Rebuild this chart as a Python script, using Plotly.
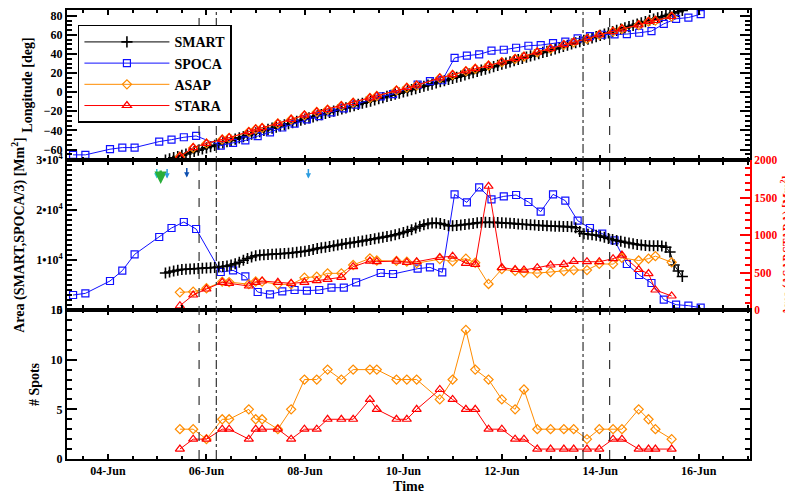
import pandas as pd
import plotly.graph_objects as go

# ---------------- data (day-of-month in June 2012, fractional) ----------------
BASE = pd.Timestamp("2012-06-01")

# SMART: 2-hour cadence starting 2012-06-05 04:00
smart_start = "2012-06-05 04:00"
smart_lon = [-71.2, -69.9, -68.6, -67.3, -66.0, -64.7, -63.4, -62.1, -60.8, -59.5,
             -58.2, -56.9, -55.6, -54.3, -53.0, -51.7, -50.4, -49.1, -47.8, -46.5,
             -45.2, -43.9, -42.6, -41.3, -40.1, -38.9, -37.7, -36.5, -35.4, -34.2,
             -33.0, -31.8, -30.6, -29.4, -28.2, -27.0, -25.9, -24.7, -23.5, -22.3,
             -21.1, -19.9, -18.7, -17.6, -16.4, -15.2, -14.0, -12.8, -11.6, -10.4,
             -9.3, -8.1, -6.9, -5.7, -4.5, -3.3, -2.1, -1.0, 0.2, 1.4,
             2.6, 3.8, 5.0, 6.2, 7.3, 8.5, 9.7, 10.9, 12.1, 13.3,
             14.5, 15.6, 16.8, 18.0, 19.3, 20.5, 21.8, 23.0, 24.2, 25.5,
             26.7, 28.0, 29.2, 30.4, 31.7, 32.9, 34.2, 35.4, 36.6, 37.9,
             39.1, 40.4, 41.6, 42.8, 44.1, 45.3, 46.6, 47.8, 49.1, 50.4,
             51.7, 53.0, 54.3, 55.6, 56.9, 58.2, 59.5, 60.8, 62.1, 63.4,
             64.7, 66.0, 67.3, 68.6, 69.9, 71.2, 72.5, 73.8, 75.1, 76.4,
             77.7, 79.0, 80.3, 81.6, 82.9, 84.2, 85.5]
smart_area = [7400, 7600, 7800, 7950, 8100, 8150, 8200, 8250, 8300, 8350,
              8400, 8450, 8500, 8600, 8700, 8800, 9000, 9250, 9550, 9950,
              10300, 10600, 10850, 11000, 11050, 11100, 11150, 11200, 11250, 11300,
              11350, 11450, 11550, 11650, 11750, 11900, 12100, 12300, 12450, 12550,
              12700, 12850, 13000, 13150, 13300, 13400, 13550, 13650, 13800, 13950,
              14100, 14250, 14400, 14550, 14700, 14850, 15050, 15250, 15500, 15750,
              16050, 16400, 16750, 17050, 17250, 17400, 17400, 17300, 17100, 16850,
              16850, 16900, 17000, 17100, 17200, 17300, 17450, 17500, 17550, 17500,
              17550, 17500, 17450, 17400, 17350, 17300, 17200, 17150, 17100, 17050,
              17000, 16900, 16900, 16850, 16800, 16750, 16750, 16700, 16700, 16650,
              16450, 15700, 15250, 15150, 15050, 14950, 14800, 14550, 14300, 14100,
              13900, 13750, 13550, 13400, 13250, 13100, 13000, 12900, 12850, 12850,
              12850, 12800, 12550, 11600, 9000, 7800, 6700]

spoca_day = [3.29, 3.54, 4.04, 4.29, 4.54, 5.04, 5.29, 5.54, 5.79, 6.29,
             6.54, 6.79, 7.04, 7.29, 7.54, 7.79, 8.04, 8.29, 8.54, 8.79,
             9.04, 9.54, 9.79, 10.29, 10.54, 10.79, 11.04, 11.29, 11.54, 11.79,
             12.04, 12.29, 12.54, 12.79, 13.04, 13.29, 13.54, 13.79, 14.04, 14.29,
             14.54, 14.79, 15.04, 15.29, 15.54, 15.79, 16.04]
spoca_lon = [-65.6, -65.6, -59.7, -58.0, -58.0, -51.7, -49.7, -47.2, -45.8, -56.0,
             -53.0, -50.5, -46.0, -42.0, -37.0, -33.0, -28.5, -25.0, -21.2, -17.0,
             -13.0, -4.5, -2.0, 8.0, 11.5, 12.5, 35.8, 38.2, 39.6, 43.4,
             44.4, 46.5, 48.6, 49.3, 51.4, 52.8, 56.2, 58.6, 60.1, 60.4,
             60.8, 62.2, 63.9, 71.5, 76.8, 78.1, 81.6]
spoca_area_div3 = [3000, 3330, 5800, 7870, 11130, 14600, 16400, 17600, 16200, 7600,
                   7930, 6730, 3600, 3130, 3730, 4000, 3870, 4000, 4470, 4470,
                   5530, 7400, 7200, 8270, 8530, 7530, 23130, 21530, 24530, 22130,
                   22730, 23000, 21600, 19670, 23130, 21870, 17870, 16400, 15270, 13930,
                   9200, 7000, 5400, 2070, 1070, 870, 470]

hmi_day = [5.46, 5.73, 6.00, 6.32, 6.46, 6.86, 7.00, 7.13, 7.45, 7.72,
           7.99, 8.24, 8.46, 8.74, 8.98, 9.32, 9.46, 9.86, 10.07, 10.27,
           10.74, 11.00, 11.27, 11.46, 11.73, 12.00, 12.27, 12.45, 12.72, 12.99,
           13.26, 13.46, 13.73, 13.98, 14.26, 14.44, 14.78, 14.98, 15.12, 15.45]
stara_lon = [-67.4, -58.0, -53.5, -49.3, -47.6, -41.3, -38.5, -37.2, -32.6, -28.4,
             -24.0, -20.5, -18.0, -14.2, -10.8, -5.9, -3.8, 2.1, 4.9, 7.3,
             14.9, 18.4, 22.2, 24.7, 28.1, 31.6, 35.1, 37.5, 42.0, 45.5,
             49.7, 52.4, 55.9, 60.1, 63.5, 66.3, 70.5, 74.0, 75.0, 79.2]
asap_lon = [-67.6, -58.3, -53.6, -49.5, -47.8, -41.5, -38.7, -37.4, -32.8, -28.6,
            -24.2, -20.7, -18.2, -14.4, -11.0, -6.1, -4.0, 1.9, 4.7, 7.1,
            14.7, 18.2, 22.0, 24.5, 27.9, 31.4, 34.9, 37.3, 41.8, 45.3,
            49.5, 52.2, 55.7, 59.9, 63.3, 66.1, 70.3, 73.8, 74.8, 79.0]
stara_area = [57, 200, 280, 369, 356, 320, 369, 387, 369, 356,
              369, 391, 409, 436, 578, 653, 644, 653, 636, 644,
              702, 718, 622, 609, 1650, 566, 540, 535, 564, 600,
              609, 648, 644, 644, 684, 733, 540, 486, 267, 187]
asap_area = [236, 244, 290, 378, 372, 345, 380, 378, 342, 342,
             431, 444, 489, 489, 600, 689, 660, 655, 645, 625,
             678, 650, 685, 630, 347, 545, 522, 500, 492, 505,
             520, 533, 533, 615, 612, 695, 660, 685, 718, 636]
stara_spots = [1, 2, 2, 3, 3, 2, 3, 3, 3, 2,
               3, 3, 4, 4, 4, 6, 5, 4, 4, 5,
               7, 6, 5, 5, 3, 3, 2, 2, 1, 1,
               1, 1, 1, 1, 2, 2, 1, 1, 1, 1]
asap_spots = [3, 3, 2, 4, 4, 5, 4, 4, 3, 5,
              8, 8, 9, 8, 9, 9, 9, 8, 8, 8,
              6, 8, 13, 9, 8, 6, 5, 7, 3, 3,
              3, 3, 2, 3, 3, 3, 5, 4, 3, 2]

event_dashed = [5.85, 14.19]
event_dashdot = [6.20, 13.65]
flare_day = [4.99, 5.07, 5.20, 5.60, 8.07]
flare_color = ["#22c4dc", "#2aae3a", "#2c9ce0", "#0d4fb0", "#2c9ce0"]
flare_tip = [26300, 25200, 26300, 26500, 26300]

lon_ticks = [-60, -40, -20, 0, 20, 40, 60, 80]
area_ticks = [0, 10000, 20000, 30000]
area_ticktext = ["0", "1•10<sup>4</sup>", "2•10<sup>4</sup>", "3•10<sup>4</sup>"]
area2_ticks = [0, 500, 1000, 1500, 2000]
spot_ticks = [0, 5, 10, 15]


def to_time(days):
    return [BASE + pd.to_timedelta(d - 1, unit="D") for d in days]


smart_t = pd.date_range(smart_start, periods=len(smart_lon), freq="2h")
spoca_t = to_time(spoca_day)
hmi_t = to_time(hmi_day)

BLACK = "black"
BLUE = "#1010ff"
ORANGE = "#ff8c00"
RED = "#ff0000"

smart_style = dict(mode="lines+markers", line=dict(color=BLACK, width=1),
                   marker=dict(symbol="cross-thin-open", size=8,
                               line=dict(color=BLACK, width=1.6)))
spoca_style = dict(mode="lines+markers", line=dict(color=BLUE, width=1),
                   marker=dict(symbol="square-open", size=7,
                               line=dict(color=BLUE, width=1.2)))
asap_style = dict(mode="lines+markers", line=dict(color=ORANGE, width=1),
                  marker=dict(symbol="diamond-open", size=7,
                              line=dict(color=ORANGE, width=1.2)))
stara_style = dict(mode="lines+markers", line=dict(color=RED, width=1),
                   marker=dict(symbol="triangle-up-open", size=8,
                               line=dict(color=RED, width=1.2)))

fig = go.Figure()
# Panel 1: longitude
fig.add_trace(go.Scatter(x=smart_t, y=smart_lon, name="SMART", xaxis="x", yaxis="y", **smart_style))
fig.add_trace(go.Scatter(x=spoca_t, y=spoca_lon, name="SPOCA", xaxis="x", yaxis="y", **spoca_style))
fig.add_trace(go.Scatter(x=hmi_t, y=asap_lon, name="ASAP", xaxis="x", yaxis="y", **asap_style))
fig.add_trace(go.Scatter(x=hmi_t, y=stara_lon, name="STARA", xaxis="x", yaxis="y", **stara_style))
# Panel 2: area
fig.add_trace(go.Scatter(x=spoca_t, y=spoca_area_div3, showlegend=False, xaxis="x2", yaxis="y2", **spoca_style))
fig.add_trace(go.Scatter(x=smart_t, y=smart_area, showlegend=False, xaxis="x2", yaxis="y2", **smart_style))
fig.add_trace(go.Scatter(x=hmi_t, y=asap_area, showlegend=False, xaxis="x2", yaxis="y4", **asap_style))
fig.add_trace(go.Scatter(x=hmi_t, y=stara_area, showlegend=False, xaxis="x2", yaxis="y4", **stara_style))
# Panel 3: spots
fig.add_trace(go.Scatter(x=hmi_t, y=asap_spots, showlegend=False, xaxis="x3", yaxis="y3", **asap_style))
fig.add_trace(go.Scatter(x=hmi_t, y=stara_spots, showlegend=False, xaxis="x3", yaxis="y3", **stara_style))

xr = ["2012-06-03 04:00", "2012-06-17 01:00"]
DAY = 86400000
minor_x = dict(dtick=DAY / 2, ticks="inside", ticklen=3, tickwidth=1.5, tickcolor=BLACK)
xcommon = dict(type="date", range=xr, dtick=2 * DAY, tick0="2012-06-04",
               ticks="inside", ticklen=5, tickwidth=2, tickcolor=BLACK,
               showline=True, linewidth=2, linecolor=BLACK, mirror="allticks",
               showgrid=False, zeroline=False, minor=minor_x, automargin=False)
ycommon = dict(ticks="inside", ticklen=10, tickwidth=2, tickcolor=BLACK,
               showline=True, linewidth=2, linecolor=BLACK,
               showgrid=False, zeroline=False, automargin=False)

D3 = [0.0, 0.3318]
D2 = [0.3318, 0.6659]
D1 = [0.6659, 1.0]

# the page body adds an 8px offset, so the figure is 8px smaller on each axis
fig.update_layout(
    width=785, height=488,
    margin=dict(l=59, r=43, t=2, b=37),
    paper_bgcolor="white", plot_bgcolor="white",
    font=dict(family="Liberation Serif", size=12, color=BLACK, weight="bold"),
    xaxis=dict(domain=[0, 1], anchor="y", showticklabels=False, **xcommon),
    xaxis2=dict(domain=[0, 1], anchor="y2", matches="x", showticklabels=False, **xcommon),
    xaxis3=dict(domain=[0, 1], anchor="y3", matches="x", showticklabels=True,
                tickformat="%d-%b", title=dict(text="Time", standoff=4), **xcommon),
    yaxis=dict(domain=D1, anchor="x", range=[-71, 86], tickvals=lon_ticks, mirror="allticks",
               minor=dict(dtick=5, tick0=0, ticks="inside", ticklen=5, tickwidth=1.5, tickcolor=BLACK),
               title=dict(text="Longitude [deg]", standoff=8), **ycommon),
    yaxis2=dict(domain=D2, anchor="x2", range=[0, 30000], tickvals=area_ticks, ticktext=area_ticktext,
                minor=dict(dtick=1000, tick0=0, ticks="inside", ticklen=5, tickwidth=1.5, tickcolor=BLACK),
                title=dict(text="Area (SMART,SPOCA/3) [Mm<sup>2</sup>]", standoff=8), **ycommon),
    yaxis4=dict(overlaying="y2", anchor="x2", side="right", range=[0, 2000], tickvals=area2_ticks,
                ticks="inside", ticklen=10, tickwidth=2, tickcolor=RED,
                showline=True, linewidth=2, linecolor=RED, showgrid=False, zeroline=False,
                tickfont=dict(color=RED, size=11.5), automargin=False,
                minor=dict(dtick=100, tick0=0, ticks="inside", ticklen=5, tickwidth=1.5, tickcolor=RED)),
    yaxis3=dict(domain=D3, anchor="x3", range=[0, 15], tickvals=spot_ticks, mirror="allticks",
                minor=dict(dtick=1, tick0=0, ticks="inside", ticklen=5, tickwidth=1.5, tickcolor=BLACK),
                title=dict(text="# Spots", standoff=8), **ycommon),
    legend=dict(x=0.016, y=0.967, xanchor="left", yanchor="top",
                bordercolor=BLACK, borderwidth=1.5, bgcolor="white",
                font=dict(size=14), itemwidth=85, tracegroupgap=0),
    showlegend=True,
)

# right-hand (red) axis title as an annotation beside the red tick labels
fig.add_annotation(text="Area (ASAP,STARA) [Mm<sup>2</sup>]", xref="paper", yref="paper",
                   x=1.0535, y=0.475, textangle=-90, showarrow=False,
                   font=dict(color=RED, size=11.5), xanchor="center", yanchor="middle")

shapes = []
for d in event_dashed:
    t = to_time([d])[0]
    shapes.append(dict(type="line", xref="x", yref="paper", x0=t, x1=t, y0=0, y1=1,
                       line=dict(color="#333333", width=1.2, dash="dash")))
for d in event_dashdot:
    t = to_time([d])[0]
    shapes.append(dict(type="line", xref="x", yref="paper", x0=t, x1=t, y0=0, y1=1,
                       line=dict(color="#333333", width=1.2, dash="dashdot")))
fig.update_layout(shapes=shapes)

for d, c, tip in zip(flare_day, flare_color, flare_tip):
    big = c == "#2aae3a"
    fig.add_annotation(x=to_time([d])[0], y=tip, xref="x2", yref="y2", text="",
                       showarrow=True, ax=0, ay=-15 if big else -11, arrowcolor=c,
                       arrowhead=2, arrowsize=1.0 if big else 0.7,
                       arrowwidth=2.5 if big else 1.5)

fig.write_html("out.html")
